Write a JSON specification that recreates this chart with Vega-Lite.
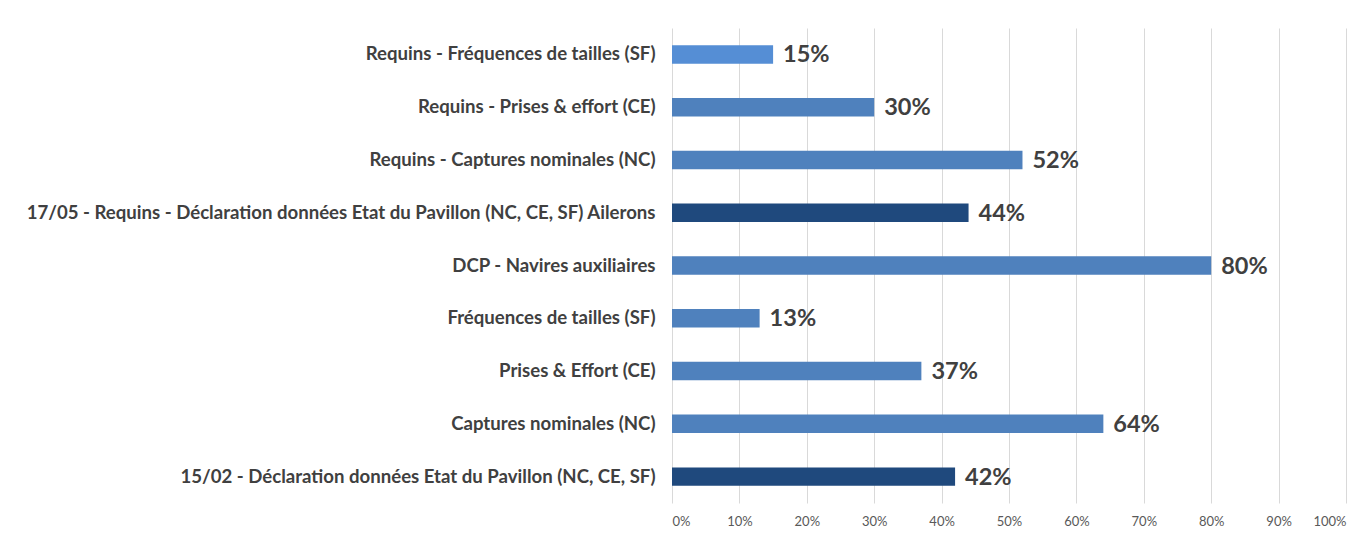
{
  "$schema": "https://vega.github.io/schema/vega-lite/v6.json",
  "autosize": {"type": "none"},
  "width": 674,
  "height": 475,
  "padding": {"left": 672, "top": 28, "right": 25, "bottom": 32},
  "background": "white",
  "config": {"view": {"stroke": null}},
  "data": {"values": [
    {"libelle": "Requins - Fréquences de tailles (SF)", "taux": 0.15, "type": "Requins SF"},
    {"libelle": "Requins - Prises & effort (CE)", "taux": 0.30, "type": "Composante"},
    {"libelle": "Requins - Captures nominales (NC)", "taux": 0.52, "type": "Composante"},
    {"libelle": "17/05 - Requins - Déclaration données Etat du Pavillon (NC, CE, SF) Ailerons", "taux": 0.44, "type": "Déclaration"},
    {"libelle": "DCP - Navires auxiliaires", "taux": 0.80, "type": "Composante"},
    {"libelle": "Fréquences de tailles (SF)", "taux": 0.13, "type": "Composante"},
    {"libelle": "Prises & Effort (CE)", "taux": 0.37, "type": "Composante"},
    {"libelle": "Captures nominales (NC)", "taux": 0.64, "type": "Composante"},
    {"libelle": "15/02 - Déclaration données Etat du Pavillon (NC, CE, SF)", "taux": 0.42, "type": "Déclaration"}
  ]},
  "encoding": {
    "y": {
      "field": "libelle", "type": "nominal", "sort": null,
      "scale": {"paddingInner": 0.65, "paddingOuter": 0.325},
      "axis": {"title": null, "domain": false, "ticks": false, "labelFont": "Lato", "labelFontWeight": "bold", "labelFontSize": 18.6, "labelColor": "#404040", "labelLimit": 800, "labelPadding": 17}
    },
    "x": {
      "field": "taux", "type": "quantitative",
      "scale": {"domain": [0, 1], "nice": false},
      "axis": {"title": null, "format": ".0%", "values": [0, 0.1, 0.2, 0.3, 0.4, 0.5, 0.6, 0.7, 0.8, 0.9, 1], "domain": false, "ticks": false, "grid": true, "gridColor": "#d9d9d9", "gridWidth": 1, "labelFont": "Lato", "labelFontSize": 13, "labelColor": "#595959", "labelPadding": 12}
    }
  },
  "layer": [
    {
      "mark": {"type": "bar"},
      "encoding": {
        "color": {"field": "type", "type": "nominal", "legend": null,
          "scale": {"domain": ["Requins SF", "Composante", "Déclaration"], "range": ["#558ED5", "#4F81BD", "#1F497D"]}}
      }
    },
    {
      "mark": {"type": "text", "align": "left", "baseline": "middle", "dx": 10, "dy": 1, "font": "Lato", "fontWeight": "bold", "fontSize": 23.5, "color": "#404040"},
      "encoding": {"text": {"field": "taux", "type": "quantitative", "format": ".0%"}}
    }
  ]
}
